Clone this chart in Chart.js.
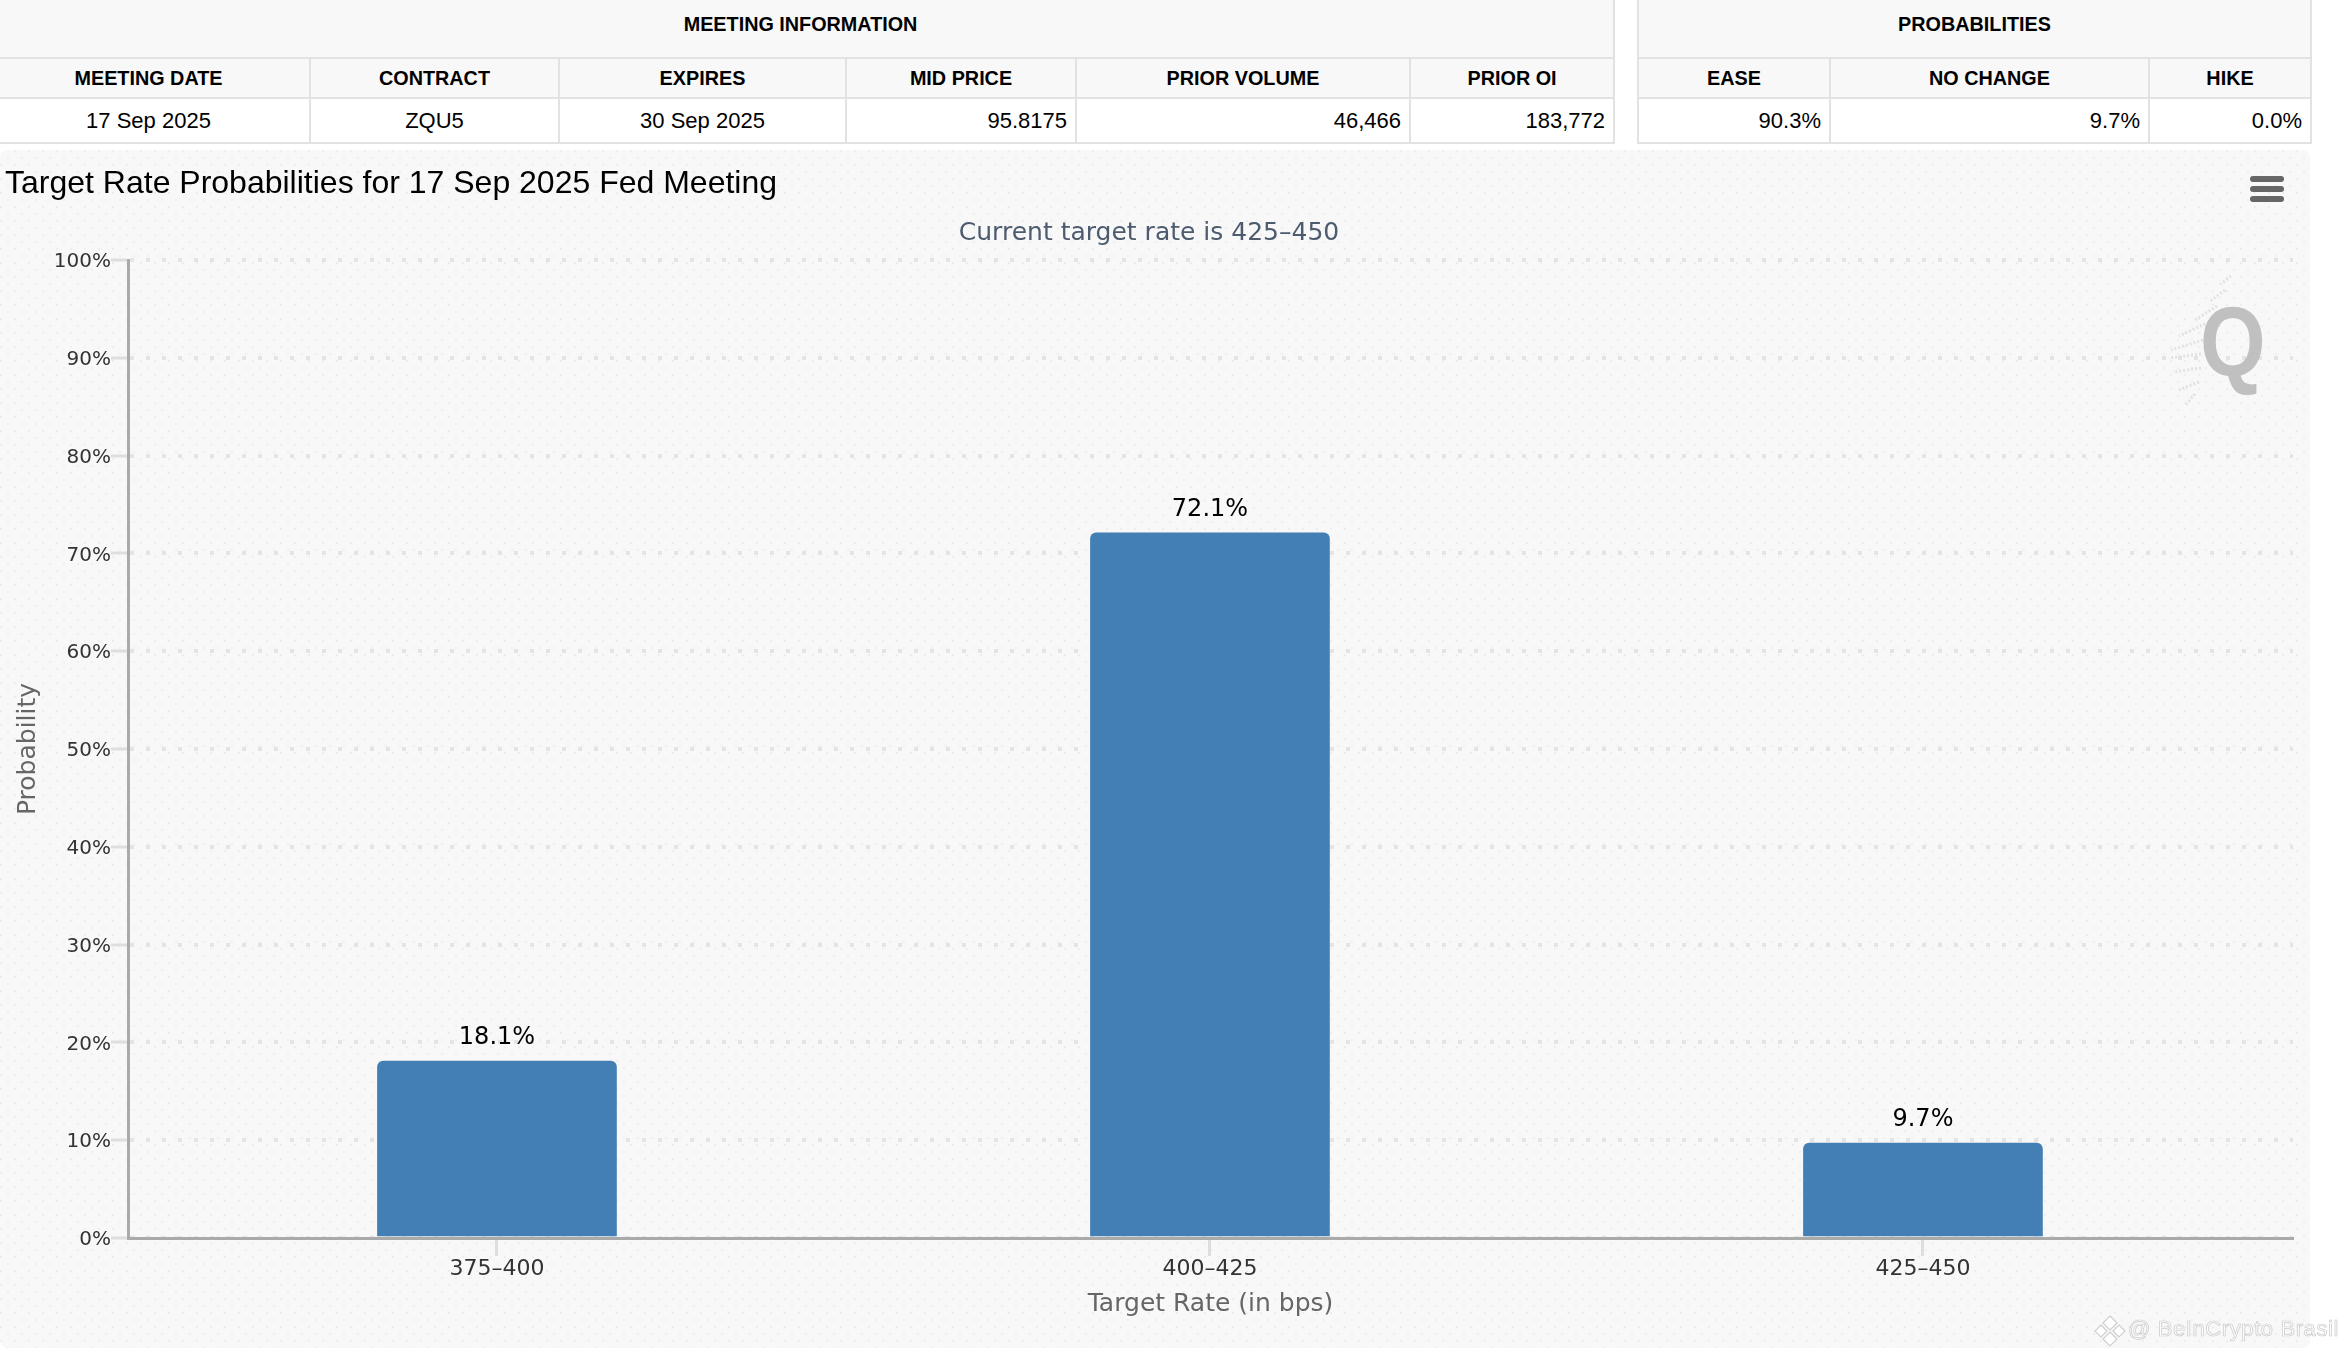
<!DOCTYPE html>
<html><head><meta charset="utf-8">
<script src="https://cdn.jsdelivr.net/npm/chart.js@4"></script>
<style>
html,body{margin:0;padding:0;background:#fff;width:2345px;height:1354px;overflow:hidden;font-family:"Liberation Sans",Arial,sans-serif;color:#000}
table{position:absolute;top:0;border-collapse:collapse;table-layout:fixed;font-size:19.8px}
td,th{border:2px solid #e2e2e2;padding:0 8px;box-sizing:border-box;white-space:nowrap;overflow:hidden}
th{background:#f8f8f8;font-weight:bold;text-align:center}
td{background:#fff;font-size:22px}
tr.r1 th{height:58px;border-top:none;padding-bottom:8px}
tr.r2 th{height:40px}
tr.r3 td{height:45px}
.c{text-align:center}.r{text-align:right}
#box{position:absolute;left:0;top:150px;width:2310px;height:1198px;border-radius:8px;background-color:#f8f8f8;
background-image:radial-gradient(circle at 1px 1px,#eeeeee 0.7px,transparent 1px),radial-gradient(circle at 1px 1px,#eeeeee 0.7px,transparent 1px);
background-size:14px 14px;background-position:0 0,7px 7px}
canvas{position:absolute;left:0;top:0}
#menu{position:absolute;left:2250px;top:176px;width:34px}
#menu i{display:block;height:6px;border-radius:3px;background:#666;margin-bottom:4px}
#q{position:absolute;left:2200px;top:282px;font:bold 98px "Liberation Sans",sans-serif;color:#bdbdbd;opacity:.95;line-height:120px;transform:scaleX(.86);transform-origin:0 0}
#streak{position:absolute;left:2165px;top:270px}
#wm{position:absolute;left:2128px;top:1316px;font:22px "Liberation Sans",sans-serif;color:#fff;-webkit-text-stroke:.7px #c9c9c9;white-space:nowrap;letter-spacing:.6px}
#logo{position:absolute;left:2093px;top:1314px}
</style></head><body>
<div id="box"><canvas id="c" width="2310" height="1198"></canvas></div>
<table id="t1"></table><table id="t2"></table>
<svg id="streak" width="80" height="150" viewBox="0 0 80 150" fill="none" stroke="#e2e2e2" stroke-width="3" stroke-dasharray="2 2">
<path d="M66 6L56 14M60 20L44 32M52 36L30 50M44 52L14 66M38 70L6 80M36 84L4 88M36 98L8 102M34 112L14 120M30 124L20 136"/></svg>
<div id="q">Q</div>
<div id="menu"><i></i><i></i><i></i></div>
<svg id="logo" width="34" height="34" viewBox="0 0 34 34" fill="#fff" stroke="#cfcfcf" stroke-width="1.2">
<path d="M17 2L24 9L17 16L10 9Z"/><path d="M8 11L14 17L8 23L2 17Z"/><path d="M26 11L32 17L26 23L20 17Z"/><path d="M17 18L24 25L17 32L10 25Z"/></svg>
<div id="wm">@ BeInCrypto Brasil</div>
<script>
const meetingHeader=["MEETING DATE","CONTRACT","EXPIRES","MID PRICE","PRIOR VOLUME","PRIOR OI"];
const meetingRow=["17 Sep 2025","ZQU5","30 Sep 2025","95.8175","46,466","183,772"];
const meetingAlign=["c","c","c","r","r","r"];
const meetingWidths=[323,249,287,230,334,204];
const probHeader=["EASE","NO CHANGE","HIKE"];
const probRow=["90.3%","9.7%","0.0%"];
const probWidths=[192,319,162];
const rates=["375–400","400–425","425–450"];
const probabilities=[18.1,72.1,9.7];
const yTicks=[0,10,20,30,40,50,60,70,80,90,100];

function buildTable(id,title,head,row,align,widths,left){
  const t=document.getElementById(id);
  t.style.left=left+'px';
  t.style.width=widths.reduce((a,b)=>a+b,0)+'px';
  t.innerHTML='<colgroup>'+widths.map(w=>`<col style="width:${w}px">`).join('')+'</colgroup>'+
   `<tr class="r1"><th colspan="${head.length}">${title}</th></tr>`+
   '<tr class="r2">'+head.map(h=>`<th>${h}</th>`).join('')+'</tr>'+
   '<tr class="r3">'+row.map((v,i)=>`<td class="${align[i]}">${v}</td>`).join('')+'</tr>';
}
buildTable('t1','MEETING INFORMATION',meetingHeader,meetingRow,meetingAlign,meetingWidths,-14);
buildTable('t2','PROBABILITIES',probHeader,probRow,["r","r","r"],probWidths,1637);

const FONT='"DejaVu Sans",sans-serif';
const valueLabels={id:'valueLabels',afterDatasetsDraw(chart){
  const ctx=chart.ctx,meta=chart.getDatasetMeta(0);
  ctx.save();ctx.fillStyle='#000';ctx.font='24px '+FONT;ctx.textAlign='center';ctx.textBaseline='alphabetic';
  meta.data.forEach((b,i)=>ctx.fillText(probabilities[i].toFixed(1)+'%',b.x,b.y-17));
  ctx.restore();
}};
new Chart(document.getElementById('c'),{
  type:'bar',
  data:{labels:rates,datasets:[{
    data:rates.map((r,i)=>({x:i,y:probabilities[i]})),
    backgroundColor:'#437EB4',barThickness:239,
    borderRadius:{topLeft:6,topRight:6,bottomLeft:0,bottomRight:0},borderSkipped:false
  }]},
  plugins:[valueLabels],
  options:{
    responsive:false,animation:false,
    layout:{padding:{left:5,right:17,top:0,bottom:0}},
    plugins:{
      legend:{display:false},tooltip:{enabled:false},
      title:{display:true,text:'Target Rate Probabilities for 17 Sep 2025 Fed Meeting',align:'start',color:'#000',
        font:{family:'"Liberation Sans",sans-serif',size:32,weight:'normal',lineHeight:1.2},padding:{top:15,bottom:0}},
      subtitle:{display:true,text:'Current target rate is 425–450',align:'center',color:'#4d5b6e',
        font:{family:FONT,size:25,weight:'normal',lineHeight:1.2},padding:{top:14.6,bottom:12}}
    },
    scales:{
      x:{type:'linear',min:-0.5175,max:2.519,offset:false,
        afterBuildTicks(s){s.ticks=rates.map((r,i)=>({value:i}));},
        afterFit(s){s.height=110;},
        ticks:{autoSkip:false,maxRotation:0,color:'#333',padding:0,font:{family:FONT,size:22},callback:v=>rates[v]},
        grid:{offset:false,drawOnChartArea:false,tickColor:'#dedede',tickWidth:3,tickLength:18},
        border:{color:'#aaa',width:3},
        title:{display:true,text:'Target Rate (in bps)',color:'#666',font:{family:FONT,size:25,lineHeight:1.2},padding:{top:0,bottom:29}}
      },
      y:{min:0,max:100,
        afterBuildTicks(s){s.ticks=yTicks.map(v=>({value:v}));},
        afterFit(s){s.width=123;},
        ticks:{color:'#333',padding:0,labelOffset:2,font:{family:FONT,size:20},callback:v=>v+'%'},
        grid:{color:'#e4e4e4',lineWidth:4,tickColor:'#dedede',tickWidth:3,tickLength:17,tickBorderDash:[],borderDash:[4,12]},
        border:{color:'#aaa',width:3,dash:[4,12]},
        title:{display:true,text:'Probability',color:'#666',font:{family:FONT,size:25,lineHeight:1.2},padding:{top:8,bottom:0}}
      }
    }
  }
});
</script></body></html>
